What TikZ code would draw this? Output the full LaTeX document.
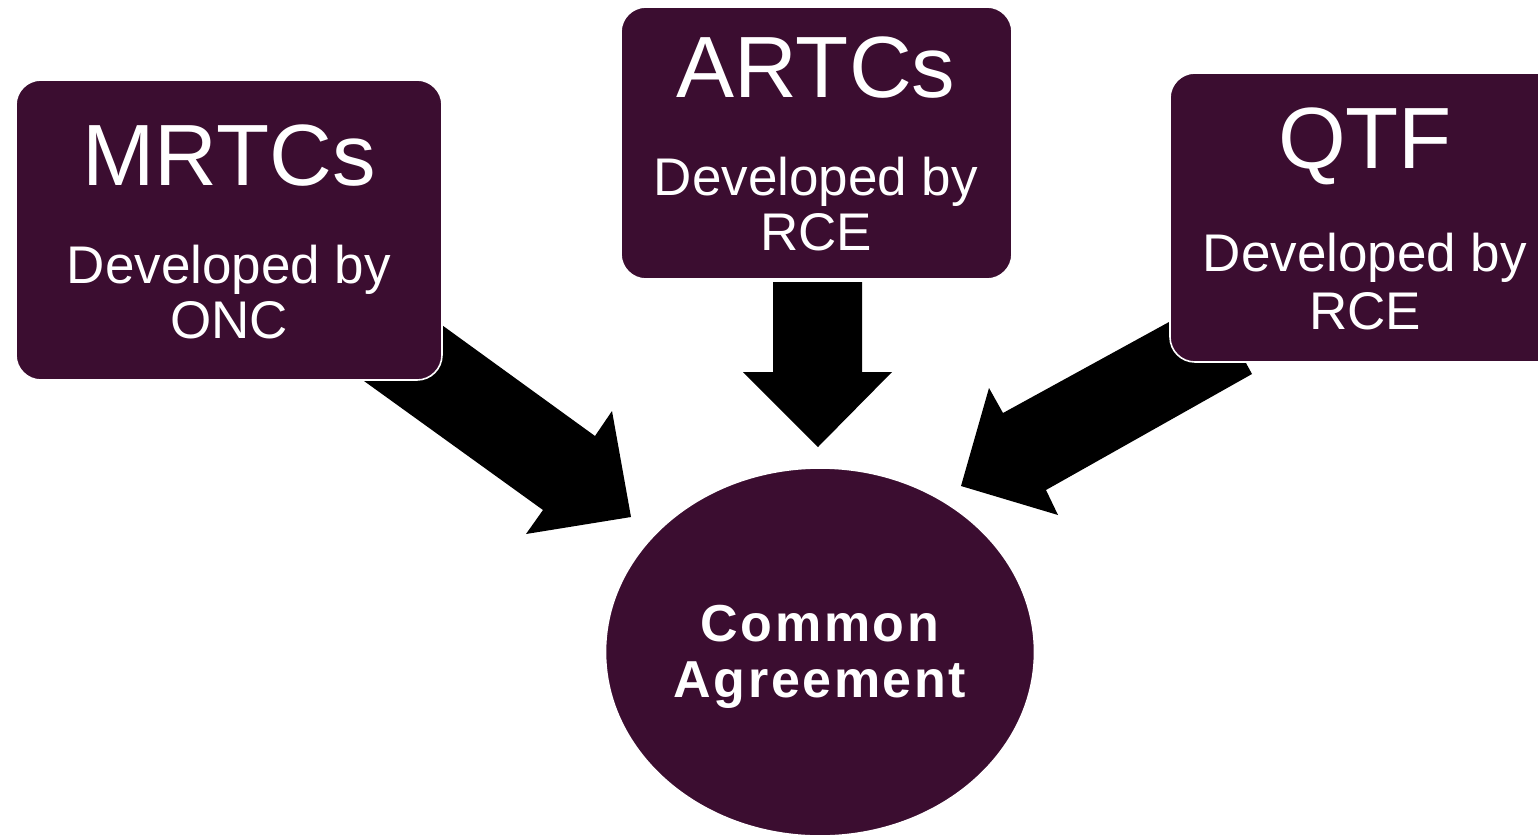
\documentclass[tikz,border=0pt]{standalone}
\usepackage{fontspec}
\setmainfont{Liberation Sans}
\usetikzlibrary{shapes.geometric}
\definecolor{plum}{RGB}{59,13,48}
\tikzset{
  box/.style={fill=plum, draw=white, line width=0.8pt, rounded corners=12.5pt, inner sep=0pt},
  blob/.style={ellipse, fill=plum, draw=white, line width=0.8pt, inner sep=0pt},
  blockarrow/.style={fill=black, draw=none},
  title/.style={anchor=base, inner sep=0pt, text=white, font=\fontsize{43.5}{48}\selectfont},
  sub/.style={anchor=base, inner sep=0pt, text=white, font=\fontsize{26.5}{30}\selectfont},
  core/.style={anchor=base, inner sep=0pt, text=white, font=\fontsize{26}{30}\selectfont\bfseries\addfontfeature{LetterSpace=5}}
}
\begin{document}
\begin{tikzpicture}[x=0.5pt, y=-0.5pt]
\useasboundingbox (0,0) rectangle (1538,836);
\clip (0,0) rectangle (1538,836);
% block arrows (behind the boxes)
\draw[blockarrow] (417,307) -- (595,436) -- (612,411) -- (631,517) -- (526,534) -- (543,510) -- (364,381) -- cycle;
\draw[blockarrow] (773,282) -- (773,372) -- (743,372) -- (818,447) -- (892,372) -- (862,372) -- (862,282) -- cycle;
\draw[blockarrow] (1211,299) -- (1003,413) -- (989,388) -- (961,486) -- (1058,515) -- (1046,490) -- (1252,374) -- cycle;
% boxes
\node[box, minimum width=213pt, minimum height=150pt] (mrtc) at (229,230) {};
\node[box, minimum width=195.5pt, minimum height=136pt] (artc) at (816.5,143) {};
\node[box, minimum width=200pt, minimum height=144.5pt] (qtf) at (1370,217.5) {};
\node[blob, minimum width=214.5pt, minimum height=184pt] (ca) at (820,652) {};
% texts
\node[title] (mrtcT) at (229,185) {MRTCs};
\node[sub] (mrtcA) at (229,283) {Developed by};
\node[sub] (mrtcB) at (229,338) {ONC};
\node[title] (artcT) at (816,97) {ARTCs};
\node[sub] (artcA) at (816,195) {Developed by};
\node[sub] (artcB) at (816,250) {RCE};
\node[title] (qtfT) at (1365,168) {QTF};
\node[sub] (qtfA) at (1365,271) {Developed by};
\node[sub] (qtfB) at (1365,329) {RCE};
\node[core] (caA) at (820,641) {Common};
\node[core] (caB) at (820,697) {Agreement};
\end{tikzpicture}
\end{document}
